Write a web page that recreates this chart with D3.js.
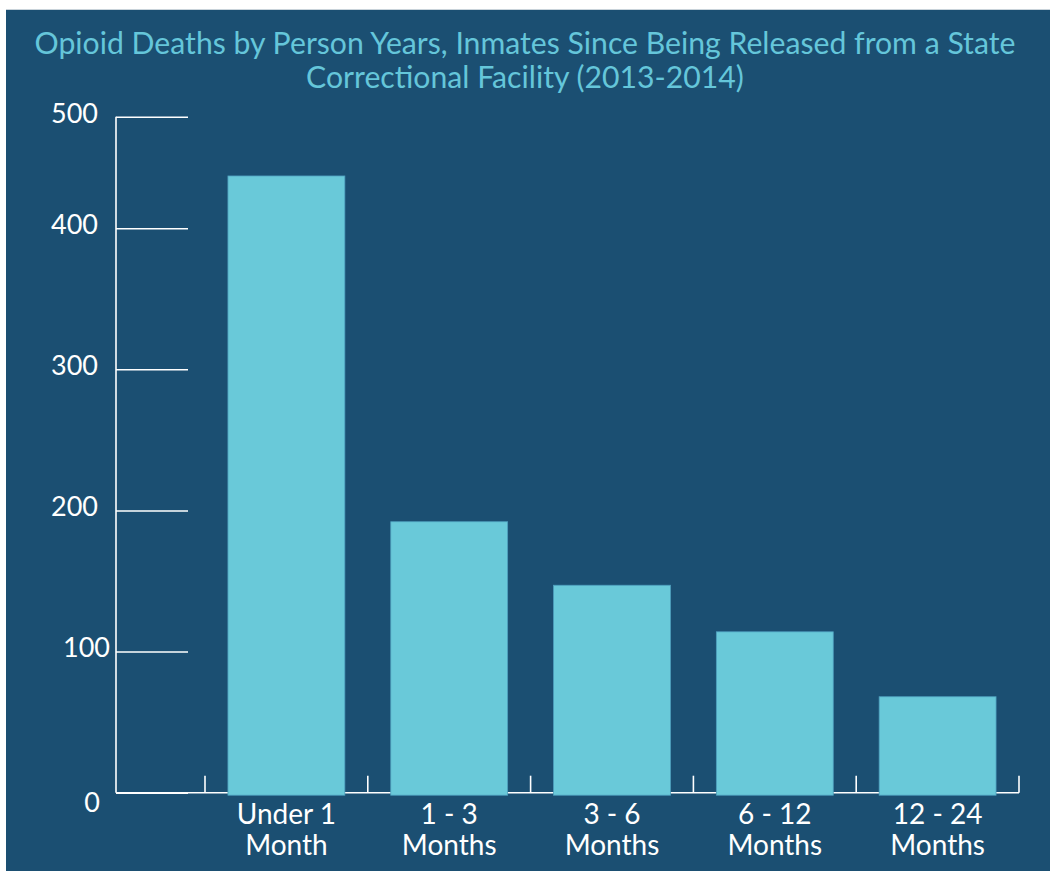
<!DOCTYPE html>
<html>
<head>
<meta charset="utf-8">
<script src="https://cdn.jsdelivr.net/npm/d3@7"></script>
<style>
  html, body { margin: 0; padding: 0; background: #ffffff; }
  svg { display: block; }
</style>
</head>
<body>
<svg id="chart" width="1050" height="871"></svg>
<script>
// ---- data ----
const categories = ["Under 1|Month", "1 - 3|Months", "3 - 6|Months", "6 - 12|Months", "12 - 24|Months"];
const values = [437, 192, 147, 114, 68];
const yTickValues = [0, 100, 200, 300, 400, 479];
const yTickLabels = ["0", "100", "200", "300", "400", "500"];
const titleLines = ["Opioid Deaths by Person Years, Inmates Since Being Released from a State",
                    "Correctional Facility (2013-2014)"];

// ---- styles ----
const BG = "#1b4f72";
const BAR = "#69c9d9";
const BAR_STROKE = "#4e9fbe";
const TITLE = "#65c6da";
const FONT = "Lato, 'Open Sans', sans-serif";

const svg = d3.select("#chart");

svg.append("rect").attr("x", 6).attr("y", 10).attr("width", 1044).attr("height", 861).attr("fill", BG);
svg.append("line").attr("x1", 6).attr("x2", 1050).attr("y1", 9.5).attr("y2", 9.5).attr("stroke", "#c9d3da").attr("stroke-width", 1);

// title
svg.append("g").selectAll("text").data(titleLines).join("text")
  .attr("x", 525)
  .attr("y", (d, i) => 54 + i * 34)
  .attr("text-anchor", "middle")
  .attr("fill", TITLE)
  .attr("font-family", FONT)
  .attr("font-size", 30.2)
  .text(d => d);

// scales
const x0 = 116, yBase = 792.7, yTopPx = 116.7;
const x = d3.scaleBand().domain(categories).range([205, 1019]).paddingInner(0.282).paddingOuter(0.141);
const y = d3.scaleLinear().domain([0, 479]).range([yBase, yTopPx]);

// y axis
const yAxis = d3.axisLeft(y).tickValues(yTickValues).tickSize(-72).tickPadding(18)
  .tickFormat((d, i) => yTickLabels[i]);
const gy = svg.append("g").attr("transform", `translate(${x0},0)`).call(yAxis);
gy.select(".domain").attr("stroke", "#ffffff").attr("stroke-width", 1.6).attr("d", `M0,${yTopPx}V${yBase}`);
gy.selectAll(".tick line").attr("stroke", "#ffffff").attr("stroke-width", 1.6);
gy.selectAll(".tick text")
  .attr("fill", "#ffffff")
  .attr("font-family", FONT)
  .attr("font-size", 27)
  .attr("dy", (d, i) => i === 0 ? "0.7em" : "0.2em")
  .attr("dx", (d, i) => i === 1 ? 12 : (i === 0 ? 2 : 0));

// x axis baseline with boundary ticks
const boundaries = categories.map(c => x(c) - x.step() * 0.141).concat([x.range()[1]]);
const gx = svg.append("g");
gx.append("path")
  .attr("d", `M${x0},${yBase}H${x.range()[1]}`)
  .attr("stroke", "#ffffff").attr("stroke-width", 1.6).attr("fill", "none");
gx.selectAll("line.bt").data(boundaries).join("line")
  .attr("class", "bt")
  .attr("x1", d => d).attr("x2", d => d)
  .attr("y1", yBase).attr("y2", yBase - 17)
  .attr("stroke", "#ffffff").attr("stroke-width", 1.6);

// bars
svg.append("g").selectAll("rect").data(values).join("rect")
  .attr("x", (d, i) => x(categories[i]))
  .attr("width", x.bandwidth())
  .attr("y", d => y(d))
  .attr("height", d => yBase - y(d) + 2.5)
  .attr("fill", BAR)
  .attr("stroke", BAR_STROKE)
  .attr("stroke-width", 0.8);

// x labels
const xl = svg.append("g").selectAll("text").data(categories).join("text")
  .attr("text-anchor", "middle")
  .attr("fill", "#ffffff")
  .attr("font-family", FONT)
  .attr("font-size", 28);
xl.each(function(d) {
  const parts = d.split("|");
  const cx = x(d) + x.bandwidth() / 2;
  d3.select(this).selectAll("tspan").data(parts).join("tspan")
    .attr("x", cx)
    .attr("y", (p, j) => 824 + j * 31)
    .text(p => p);
});
</script>
</body>
</html>
